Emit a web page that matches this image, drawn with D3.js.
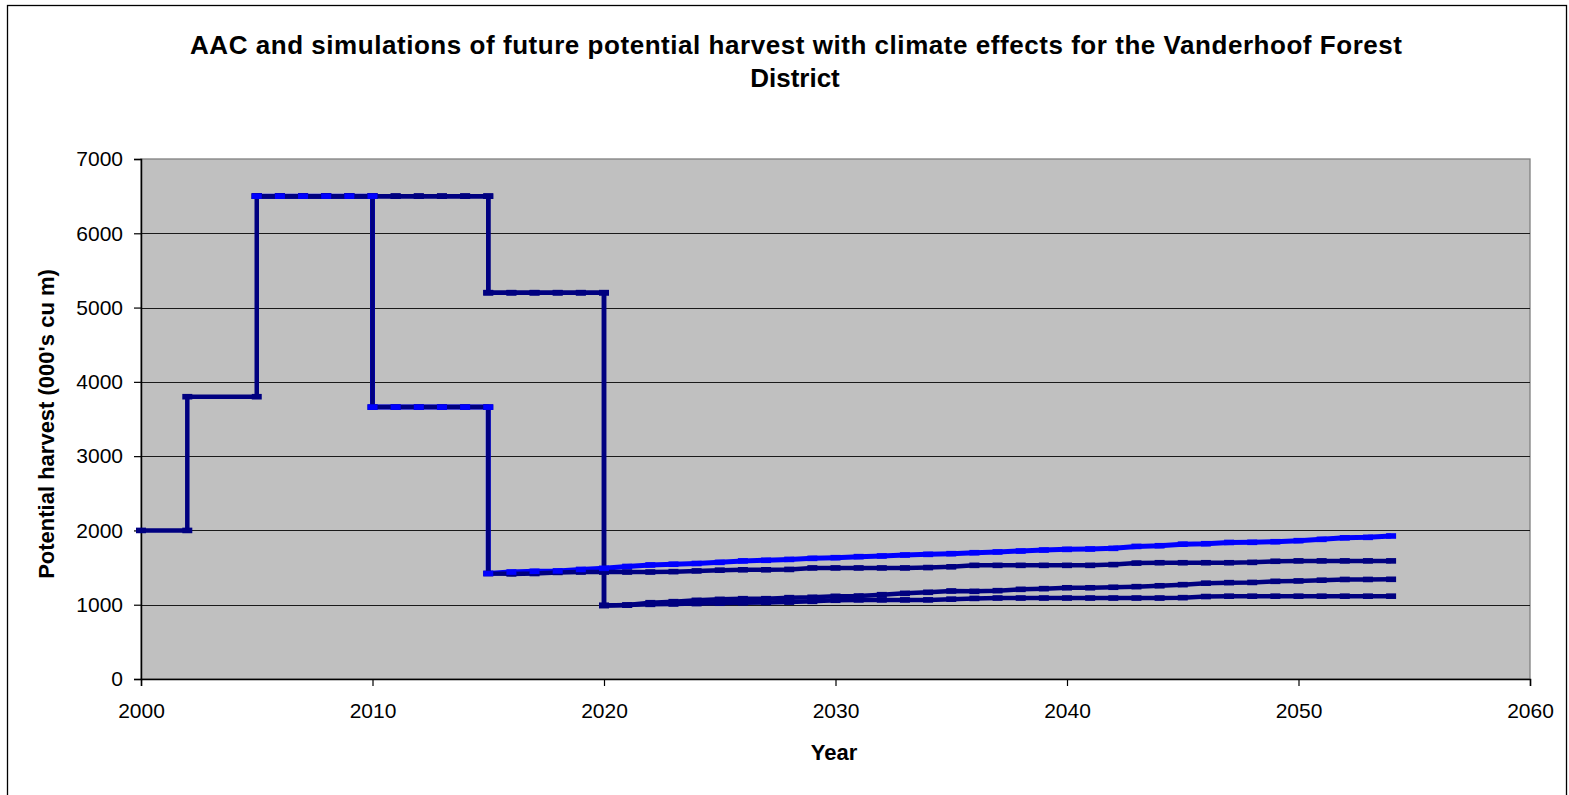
<!DOCTYPE html>
<html>
<head>
<meta charset="utf-8">
<script src="https://cdn.jsdelivr.net/npm/d3@7"></script>
<style>
  body { margin: 0; background: #fff; }
  text { font-family: "Liberation Sans", Arial, sans-serif; fill: #000; }
</style>
</head>
<body>
<div id="chart"></div>
<script>
// tick labels
var xTicks = [2000, 2010, 2020, 2030, 2040, 2050, 2060];
var yTicks = [0, 1000, 2000, 3000, 4000, 5000, 6000, 7000];

// AAC history (000's cu m)
var aacYears = [2000, 2002, 2002, 2005, 2005];
var aacHarvest = [2000, 2000, 3800, 3800, 6500];

// step down starting in 2010
var earlyStepYears = [2005, 2006, 2007, 2008, 2009, 2010, 2010, 2011, 2012, 2013, 2014, 2015, 2015];
var earlyStepHarvest = [6500, 6500, 6500, 6500, 6500, 6500, 3660, 3660, 3660, 3660, 3660, 3660, 1420];

// step down starting in 2015
var lateStepYears = [2005, 2006, 2007, 2008, 2009, 2010, 2011, 2012, 2013, 2014, 2015, 2015, 2016, 2017, 2018, 2019, 2020, 2020];
var lateStepHarvest = [6500, 6500, 6500, 6500, 6500, 6500, 6500, 6500, 6500, 6500, 6500, 5200, 5200, 5200, 5200, 5200, 5200, 990];

// simulated harvest after the falldown
var earlySimYears = d3.range(2016, 2055);
var lateSimYears = d3.range(2021, 2055);

var blueSim = [1440, 1450, 1455, 1475, 1490, 1515, 1535, 1545, 1555, 1570, 1590, 1598, 1610, 1624, 1633, 1647,
  1656, 1669, 1678, 1687, 1700, 1710, 1723, 1736, 1745, 1750, 1759, 1785, 1794, 1815, 1821, 1838, 1840, 1848,
  1862, 1880, 1900, 1907, 1925];
var navyEarlySim = [1415, 1420, 1435, 1440, 1440, 1440, 1440, 1445, 1455, 1465, 1470, 1470, 1475, 1495, 1495,
  1495, 1495, 1495, 1500, 1510, 1530, 1530, 1530, 1530, 1530, 1530, 1540, 1560, 1565, 1565, 1565, 1565, 1570,
  1585, 1590, 1590, 1590, 1590, 1590];
var navyLateSimA = [995, 1027, 1041, 1059, 1072, 1081, 1081, 1095, 1100, 1113, 1117, 1135, 1153, 1167, 1185,
  1180, 1189, 1207, 1216, 1228, 1228, 1235, 1243, 1255, 1270, 1290, 1297, 1300, 1315, 1320, 1330, 1340, 1340, 1342];
var navyLateSimB = [995, 1005, 1010, 1015, 1020, 1025, 1030, 1035, 1045, 1060, 1065, 1065, 1065, 1065, 1075,
  1085, 1090, 1090, 1090, 1090, 1090, 1090, 1090, 1090, 1095, 1110, 1115, 1115, 1115, 1115, 1115, 1115, 1115, 1115];

function pts(years, vals) {
  return years.map(function (y, i) { return { year: y, value: vals[i] }; });
}

var navy = "#000080", blue = "#0000ff";

// line series, drawn in this order
var series = [
  { color: blue, width: 5, points: pts(earlyStepYears, earlyStepHarvest).concat(pts(earlySimYears, blueSim)) },
  { color: navy, width: 4.5, points: pts(aacYears, aacHarvest) },
  { color: navy, width: 4.5, points: pts(earlyStepYears, earlyStepHarvest).concat(pts(earlySimYears, navyEarlySim)) },
  { color: navy, width: 4.5, points: pts(lateStepYears, lateStepHarvest).concat(pts(lateSimYears, navyLateSimA)) },
  { color: navy, width: 4.5, points: pts(lateStepYears, lateStepHarvest).concat(pts(lateSimYears, navyLateSimB)) }
];

var width = 1569, height = 795;
var plot = { left: 141, right: 1530, top: 159, bottom: 679 };

var svg = d3.select("#chart").append("svg")
  .attr("width", width)
  .attr("height", height);

// chart frame
svg.append("rect")
  .attr("x", 7.5).attr("y", 5.5)
  .attr("width", 1559).attr("height", 800)
  .attr("fill", "#fff").attr("stroke", "#000").attr("stroke-width", 1.3);

var x = d3.scaleLinear().domain([2000, 2060]).range([plot.left, plot.right]);
var y = d3.scaleLinear().domain([0, 7000]).range([plot.bottom, plot.top]);

// plot area
svg.append("rect")
  .attr("x", plot.left).attr("y", plot.top)
  .attr("width", plot.right - plot.left).attr("height", plot.bottom - plot.top)
  .attr("fill", "#c0c0c0").attr("stroke", "#808080").attr("stroke-width", 1.3);

// gridlines
svg.append("g")
  .selectAll("line")
  .data(yTicks.filter(function (d) { return d > 0 && d < 7000; }))
  .enter().append("line")
  .attr("x1", plot.left).attr("x2", plot.right)
  .attr("y1", function (d) { return Math.round(y(d)) + 0.5; })
  .attr("y2", function (d) { return Math.round(y(d)) + 0.5; })
  .attr("stroke", "#1a1a1a").attr("stroke-width", 1.2);

// axes
var yAxis = svg.append("g")
  .attr("transform", "translate(" + plot.left + ",0)")
  .call(d3.axisLeft(y).tickValues(yTicks).tickSize(7).tickPadding(11).tickFormat(d3.format("d")));
var xAxis = svg.append("g")
  .attr("transform", "translate(0," + plot.bottom + ")")
  .call(d3.axisBottom(x).tickValues(xTicks).tickSize(7).tickPadding(17).tickFormat(d3.format("d")));

[yAxis, xAxis].forEach(function (a) {
  a.select(".domain").attr("stroke", "#000").attr("stroke-width", 1.5);
  a.selectAll(".tick line").attr("stroke", "#000").attr("stroke-width", 1.2);
  a.selectAll(".tick text")
    .attr("font-family", "Liberation Sans, Arial, sans-serif")
    .attr("font-size", 21).attr("fill", "#000");
});

// series lines
var line = d3.line()
  .x(function (d) { return x(d.year); })
  .y(function (d) { return y(d.value); });

svg.append("g")
  .selectAll("path")
  .data(series)
  .enter().append("path")
  .attr("d", function (d) { return line(d.points); })
  .attr("fill", "none")
  .attr("stroke", function (d) { return d.color; })
  .attr("stroke-width", function (d) { return d.width; })
  .attr("stroke-linejoin", "round");

// dash markers: navy first, blue on top
var markerOrder = series.slice(1).concat(series.slice(0, 1));
svg.append("g")
  .selectAll("g")
  .data(markerOrder)
  .enter().append("g")
  .attr("fill", function (d) { return d.color; })
  .selectAll("rect")
  .data(function (d) { return d.points; })
  .enter().append("rect")
  .attr("x", function (d) { return x(d.year) - 5; })
  .attr("y", function (d) { return y(d.value) - 2.8; })
  .attr("width", 10)
  .attr("height", 5.6);

// titles
var title = svg.append("text")
  .attr("text-anchor", "middle")
  .attr("font-size", 26)
  .attr("font-weight", "bold");
title.append("tspan")
  .attr("x", 796).attr("y", 54)
  .attr("textLength", 1212).attr("lengthAdjust", "spacing")
  .text("AAC and simulations of future potential harvest with climate effects for the Vanderhoof Forest");
title.append("tspan")
  .attr("x", 795).attr("y", 87)
  .text("District");

svg.append("text")
  .attr("x", 834).attr("y", 760)
  .attr("text-anchor", "middle")
  .attr("font-size", 22)
  .attr("font-weight", "bold")
  .text("Year");

svg.append("text")
  .attr("transform", "translate(54,424) rotate(-90)")
  .attr("text-anchor", "middle")
  .attr("font-size", 22)
  .attr("font-weight", "bold")
  .text("Potential harvest (000's cu m)");
</script>
</body>
</html>
